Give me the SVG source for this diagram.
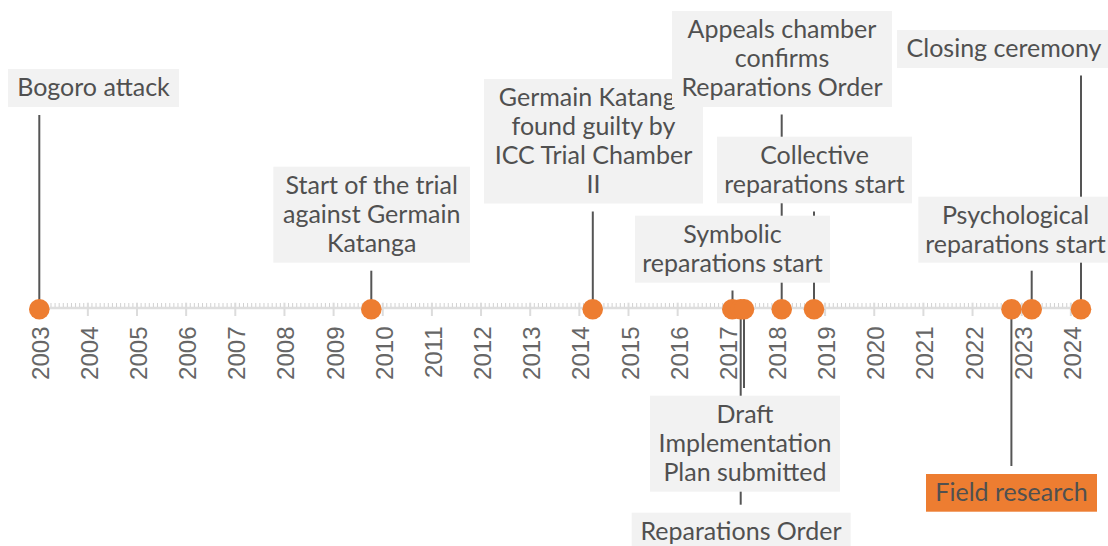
<svg xmlns="http://www.w3.org/2000/svg" width="1108" height="546" viewBox="0 0 1108 546">
<style>
.box{fill:#f2f2f2}
.box.hl{fill:#ED7D31}
.lbl{font-family:Lato,"Open Sans",sans-serif;font-size:25px;fill:#505050;text-anchor:middle}
.dot{fill:#ED7D31}
.con line{stroke:#555;stroke-width:2}
.yr{font-family:"Liberation Sans",Arial,sans-serif;font-size:24px;fill:#666;text-anchor:end}
.maj{stroke:#dcdcdc;stroke-width:2}
</style>
<rect width="1108" height="546" fill="#fff"/>
<g id="axis">
<line x1="39" y1="308" x2="1081" y2="308" stroke="#dedede" stroke-width="2.5"/>
<line x1="38.2" y1="305" x2="1081" y2="305" stroke="#d2d2d2" stroke-width="4" stroke-dasharray="1 3.0958"/>
<g class="maj">
<line x1="38.7" y1="302.7" x2="38.7" y2="316"/>
<line x1="87.85" y1="302.7" x2="87.85" y2="316"/>
<line x1="137" y1="302.7" x2="137" y2="316"/>
<line x1="186.15" y1="302.7" x2="186.15" y2="316"/>
<line x1="235.3" y1="302.7" x2="235.3" y2="316"/>
<line x1="284.45" y1="302.7" x2="284.45" y2="316"/>
<line x1="333.6" y1="302.7" x2="333.6" y2="316"/>
<line x1="382.75" y1="302.7" x2="382.75" y2="316"/>
<line x1="431.9" y1="302.7" x2="431.9" y2="316"/>
<line x1="481.05" y1="302.7" x2="481.05" y2="316"/>
<line x1="530.2" y1="302.7" x2="530.2" y2="316"/>
<line x1="579.35" y1="302.7" x2="579.35" y2="316"/>
<line x1="628.5" y1="302.7" x2="628.5" y2="316"/>
<line x1="677.65" y1="302.7" x2="677.65" y2="316"/>
<line x1="726.8" y1="302.7" x2="726.8" y2="316"/>
<line x1="775.95" y1="302.7" x2="775.95" y2="316"/>
<line x1="825.1" y1="302.7" x2="825.1" y2="316"/>
<line x1="874.25" y1="302.7" x2="874.25" y2="316"/>
<line x1="923.4" y1="302.7" x2="923.4" y2="316"/>
<line x1="972.55" y1="302.7" x2="972.55" y2="316"/>
<line x1="1021.7" y1="302.7" x2="1021.7" y2="316"/>
<line x1="1070.85" y1="302.7" x2="1070.85" y2="316"/>
</g>
<g class="yr">
<text transform="translate(40.3,326.5) rotate(-90)" dy="0.35em">2003</text>
<text transform="translate(89.4,326.5) rotate(-90)" dy="0.35em">2004</text>
<text transform="translate(138.6,326.5) rotate(-90)" dy="0.35em">2005</text>
<text transform="translate(187.7,326.5) rotate(-90)" dy="0.35em">2006</text>
<text transform="translate(236.9,326.5) rotate(-90)" dy="0.35em">2007</text>
<text transform="translate(286,326.5) rotate(-90)" dy="0.35em">2008</text>
<text transform="translate(335.2,326.5) rotate(-90)" dy="0.35em">2009</text>
<text transform="translate(384.3,326.5) rotate(-90)" dy="0.35em">2010</text>
<text transform="translate(433.5,326.5) rotate(-90)" dy="0.35em">2011</text>
<text transform="translate(482.6,326.5) rotate(-90)" dy="0.35em">2012</text>
<text transform="translate(531.8,326.5) rotate(-90)" dy="0.35em">2013</text>
<text transform="translate(580.9,326.5) rotate(-90)" dy="0.35em">2014</text>
<text transform="translate(630.1,326.5) rotate(-90)" dy="0.35em">2015</text>
<text transform="translate(679.2,326.5) rotate(-90)" dy="0.35em">2016</text>
<text transform="translate(728.4,326.5) rotate(-90)" dy="0.35em">2017</text>
<text transform="translate(777.5,326.5) rotate(-90)" dy="0.35em">2018</text>
<text transform="translate(826.7,326.5) rotate(-90)" dy="0.35em">2019</text>
<text transform="translate(875.8,326.5) rotate(-90)" dy="0.35em">2020</text>
<text transform="translate(925,326.5) rotate(-90)" dy="0.35em">2021</text>
<text transform="translate(974.1,326.5) rotate(-90)" dy="0.35em">2022</text>
<text transform="translate(1023.3,326.5) rotate(-90)" dy="0.35em">2023</text>
<text transform="translate(1072.4,326.5) rotate(-90)" dy="0.35em">2024</text>
</g>
</g>
<g id="connectors" class="con">
<line x1="39.3" y1="115" x2="39.3" y2="309"/>
<line x1="371.3" y1="270.7" x2="371.3" y2="309"/>
<line x1="592.8" y1="211.5" x2="592.8" y2="309"/>
<line x1="781.7" y1="114.5" x2="781.7" y2="309"/>
<line x1="814" y1="211.5" x2="814" y2="309"/>
<line x1="732.5" y1="290.5" x2="732.5" y2="309"/>
<line x1="1081" y1="75.5" x2="1081" y2="309"/>
<line x1="1031.7" y1="270.7" x2="1031.7" y2="309"/>
<line x1="744" y1="309" x2="744" y2="388"/>
<line x1="740.7" y1="309" x2="740.7" y2="504.7"/>
<line x1="1011.4" y1="309" x2="1011.4" y2="466"/>
</g>
<g id="bogoro">
<rect class="box" x="8" y="69" width="171" height="38"/>
<text class="lbl" x="93.5" y="96">Bogoro attack</text>
<circle class="dot" cx="39.3" cy="309.3" r="10.3"/>
</g>
<g id="trial-start">
<rect class="box" x="273.3" y="166.7" width="196.7" height="96"/>
<text class="lbl" x="371.7" y="193.7">Start of the trial</text>
<text class="lbl" x="371.7" y="222.7">against Germain</text>
<text class="lbl" x="371.7" y="251.7">Katanga</text>
<circle class="dot" cx="371.3" cy="309.3" r="10.3"/>
</g>
<g id="guilty">
<rect class="box" x="484" y="79" width="219" height="124.5"/>
<text class="lbl" x="593.5" y="106">Germain Katanga</text>
<text class="lbl" x="593.5" y="135">found guilty by</text>
<text class="lbl" x="593.5" y="164">ICC Trial Chamber</text>
<text class="lbl" x="593.5" y="193">II</text>
<circle class="dot" cx="592.7" cy="309.3" r="10.3"/>
</g>
<g id="appeals">
<rect class="box" x="672" y="11" width="220" height="96"/>
<text class="lbl" x="782" y="38">Appeals chamber</text>
<text class="lbl" x="782" y="67">confirms</text>
<text class="lbl" x="782" y="96">Reparations Order</text>
<circle class="dot" cx="781.7" cy="309.3" r="10.3"/>
</g>
<g id="collective">
<rect class="box" x="717" y="136.7" width="195" height="66.6"/>
<text class="lbl" x="814.5" y="163.7">Collective</text>
<text class="lbl" x="814.5" y="192.7">reparations start</text>
<circle class="dot" cx="814" cy="309.3" r="10.3"/>
</g>
<g id="symbolic">
<rect class="box" x="635" y="215.7" width="195" height="67"/>
<text class="lbl" x="732.5" y="242.7">Symbolic</text>
<text class="lbl" x="732.5" y="271.7">reparations start</text>
<circle class="dot" cx="732.3" cy="309.3" r="10.3"/>
</g>
<g id="closing">
<rect class="box" x="897" y="30" width="214" height="38"/>
<text class="lbl" x="1004" y="57">Closing ceremony</text>
<circle class="dot" cx="1081" cy="309.3" r="10.3"/>
</g>
<g id="psychological">
<rect class="box" x="918.3" y="196.7" width="195" height="66"/>
<text class="lbl" x="1015.5" y="223.7">Psychological</text>
<text class="lbl" x="1015.5" y="252.7">reparations start</text>
<circle class="dot" cx="1031.7" cy="309.3" r="10.3"/>
</g>
<g id="reparations-order">
<rect class="box" x="631.7" y="512.7" width="219" height="38"/>
<text class="lbl" x="741" y="539.7">Reparations Order</text>
<circle class="dot" cx="740.7" cy="309.3" r="10.3"/>
</g>
<g id="draft-plan">
<rect class="box" x="650" y="395.7" width="190" height="96"/>
<text class="lbl" x="745" y="422.7">Draft</text>
<text class="lbl" x="745" y="451.7">Implementation</text>
<text class="lbl" x="745" y="480.7">Plan submitted</text>
<circle class="dot" cx="744" cy="309.3" r="10.3"/>
</g>
<g id="field-research">
<rect class="box hl" x="926" y="474" width="171" height="37.7"/>
<text class="lbl" x="1011.5" y="501">Field research</text>
<circle class="dot" cx="1011.5" cy="309.3" r="10.3"/>
</g>
</svg>
